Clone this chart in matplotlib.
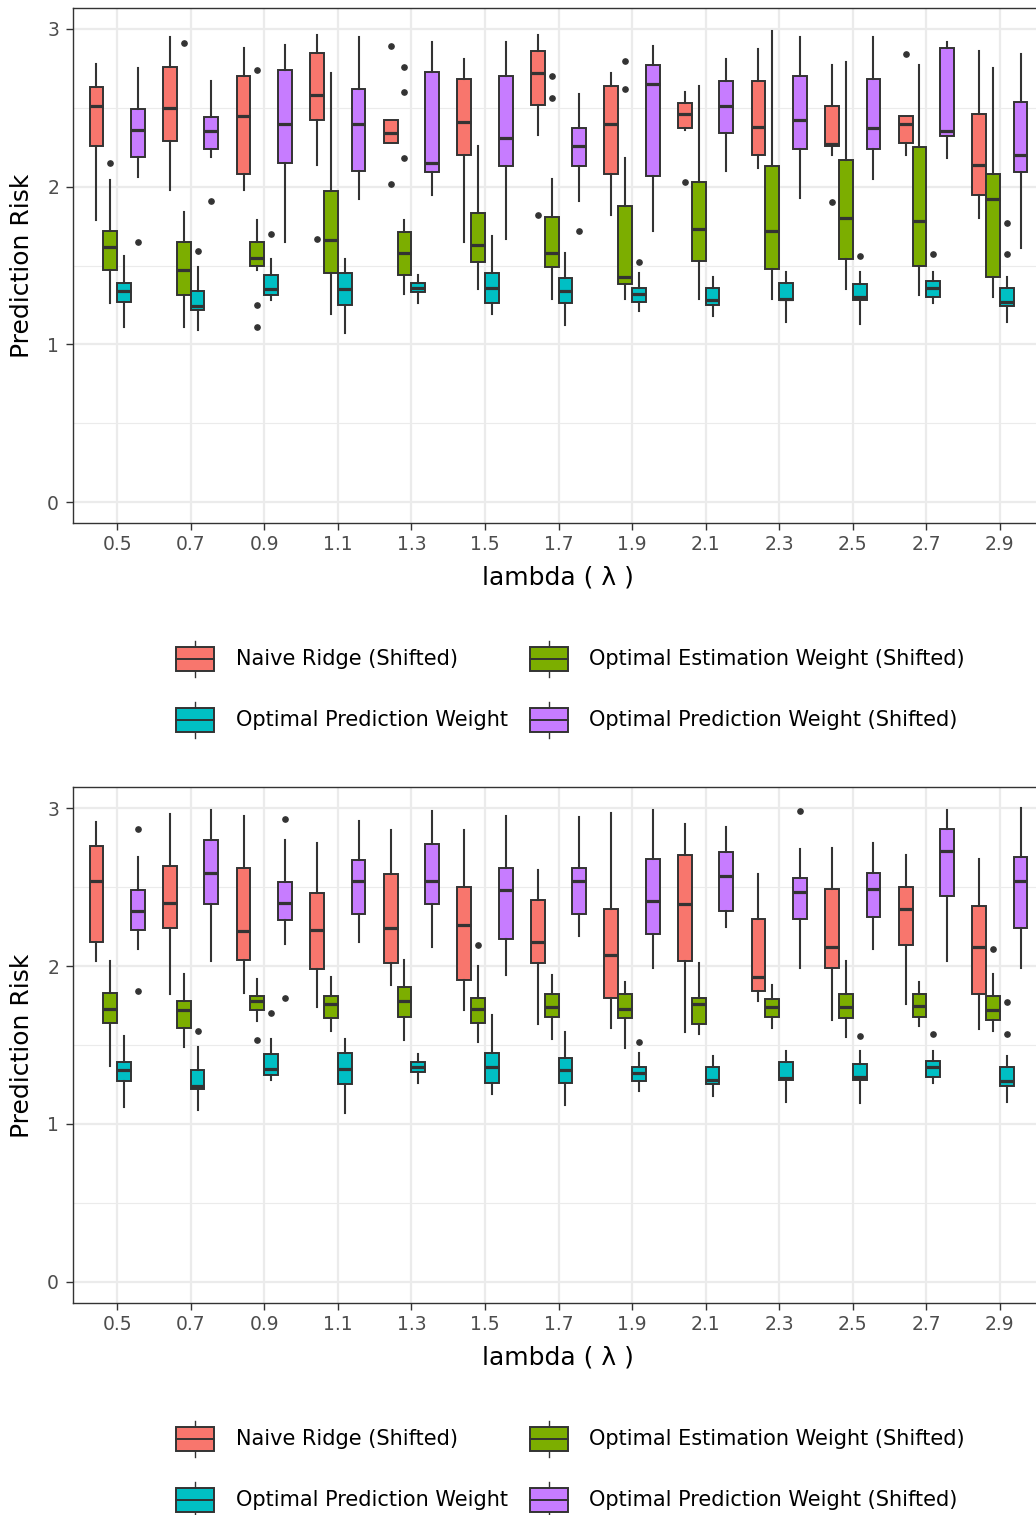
import numpy as np
import matplotlib.pyplot as plt
from matplotlib.patches import Rectangle

# categories
lambdas = ["0.5", "0.7", "0.9", "1.1", "1.3", "1.5", "1.7", "1.9", "2.1", "2.3", "2.5", "2.7", "2.9"]
groups = ["Naive Ridge (Shifted)", "Optimal Estimation Weight (Shifted)",
          "Optimal Prediction Weight", "Optimal Prediction Weight (Shifted)"]
colors = ["#F8766D", "#7CAE00", "#00BFC4", "#C77CFF"]

# ---- top panel (a) ----
a_naive_hi = [2.78, 2.95, 2.88, 2.96, 2.42, 2.81, 2.96, 2.72, 2.60, 2.87, 2.77, 2.45, 2.86]
a_naive_q3 = [2.63, 2.76, 2.70, 2.85, 2.42, 2.68, 2.86, 2.64, 2.53, 2.67, 2.51, 2.45, 2.46]
a_naive_md = [2.51, 2.50, 2.45, 2.58, 2.34, 2.41, 2.72, 2.40, 2.46, 2.38, 2.27, 2.40, 2.14]
a_naive_q1 = [2.26, 2.29, 2.08, 2.42, 2.28, 2.20, 2.52, 2.08, 2.37, 2.20, 2.26, 2.28, 1.95]
a_naive_lo = [1.79, 1.98, 1.98, 2.14, 2.28, 1.65, 2.33, 1.82, 2.36, 2.12, 2.20, 2.20, 1.80]
a_naive_out = [[], [], [], [1.67], [2.89, 2.02], [], [1.82], [], [2.03], [], [1.90], [2.84], []]

a_est_hi = [2.04, 1.84, 1.79, 2.72, 1.79, 2.26, 2.05, 2.18, 2.64, 2.99, 2.79, 2.77, 2.75]
a_est_q3 = [1.72, 1.65, 1.65, 1.97, 1.71, 1.83, 1.81, 1.88, 2.03, 2.13, 2.17, 2.25, 2.08]
a_est_md = [1.62, 1.47, 1.55, 1.66, 1.58, 1.63, 1.58, 1.43, 1.73, 1.72, 1.80, 1.78, 1.92]
a_est_q1 = [1.47, 1.31, 1.50, 1.45, 1.44, 1.52, 1.49, 1.38, 1.53, 1.48, 1.54, 1.50, 1.43]
a_est_lo = [1.26, 1.11, 1.47, 1.19, 1.32, 1.35, 1.29, 1.29, 1.29, 1.29, 1.35, 1.31, 1.30]
a_est_out = [[2.15], [2.91], [2.74, 1.25, 1.11], [], [2.76, 2.60, 2.18], [], [2.70, 2.56],
             [2.80, 2.62], [], [], [], [], []]

a_shift_hi = [2.75, 2.67, 2.90, 2.95, 2.92, 2.92, 2.59, 2.89, 2.81, 2.95, 2.95, 2.92, 2.84]
a_shift_q3 = [2.49, 2.44, 2.74, 2.62, 2.73, 2.70, 2.37, 2.77, 2.67, 2.70, 2.68, 2.88, 2.54]
a_shift_md = [2.36, 2.35, 2.40, 2.40, 2.15, 2.31, 2.26, 2.65, 2.51, 2.42, 2.37, 2.35, 2.20]
a_shift_q1 = [2.19, 2.24, 2.15, 2.10, 2.09, 2.13, 2.13, 2.07, 2.34, 2.24, 2.24, 2.32, 2.09]
a_shift_lo = [2.06, 2.19, 1.65, 1.92, 1.95, 1.67, 1.91, 1.72, 2.10, 1.93, 2.05, 2.18, 1.61]
a_shift_out = [[1.65], [1.91], [], [], [], [], [1.72], [], [], [], [], [], []]

# optimal prediction weight (same in both panels)
pred_hi = [1.56, 1.49, 1.54, 1.54, 1.44, 1.69, 1.58, 1.45, 1.43, 1.46, 1.46, 1.46, 1.43]
pred_q3 = [1.39, 1.34, 1.44, 1.45, 1.39, 1.45, 1.42, 1.36, 1.36, 1.39, 1.38, 1.40, 1.36]
pred_md = [1.34, 1.24, 1.35, 1.35, 1.36, 1.36, 1.34, 1.32, 1.28, 1.29, 1.30, 1.36, 1.27]
pred_q1 = [1.27, 1.22, 1.31, 1.25, 1.33, 1.26, 1.26, 1.27, 1.25, 1.28, 1.28, 1.30, 1.24]
pred_lo = [1.11, 1.09, 1.28, 1.07, 1.26, 1.19, 1.12, 1.21, 1.18, 1.14, 1.13, 1.26, 1.14]
pred_out = [[], [1.59], [1.70], [], [], [], [], [1.52], [], [], [1.56], [1.57], [1.77, 1.57]]

# ---- bottom panel (b) ----
b_naive_hi = [2.91, 2.96, 2.95, 2.78, 2.86, 2.86, 2.61, 2.97, 2.90, 2.58, 2.75, 2.70, 2.68]
b_naive_q3 = [2.76, 2.63, 2.62, 2.46, 2.58, 2.50, 2.42, 2.36, 2.70, 2.30, 2.49, 2.50, 2.38]
b_naive_md = [2.54, 2.40, 2.22, 2.23, 2.24, 2.26, 2.15, 2.07, 2.39, 1.93, 2.12, 2.36, 2.12]
b_naive_q1 = [2.15, 2.24, 2.04, 1.98, 2.02, 1.91, 2.02, 1.80, 2.03, 1.84, 1.99, 2.13, 1.82]
b_naive_lo = [2.03, 1.82, 1.83, 1.74, 1.88, 1.72, 1.63, 1.61, 1.58, 1.78, 1.66, 1.76, 1.60]
b_naive_out = [[] for _ in lambdas]

b_est_hi = [2.03, 1.95, 1.92, 1.93, 2.04, 2.00, 1.94, 1.90, 2.02, 1.88, 2.03, 1.90, 1.95]
b_est_q3 = [1.83, 1.78, 1.81, 1.81, 1.87, 1.80, 1.82, 1.82, 1.80, 1.79, 1.82, 1.82, 1.81]
b_est_md = [1.73, 1.72, 1.78, 1.76, 1.78, 1.73, 1.74, 1.73, 1.76, 1.74, 1.74, 1.75, 1.72]
b_est_q1 = [1.64, 1.61, 1.72, 1.67, 1.68, 1.64, 1.68, 1.67, 1.63, 1.68, 1.67, 1.68, 1.66]
b_est_lo = [1.37, 1.49, 1.65, 1.59, 1.53, 1.52, 1.54, 1.48, 1.57, 1.61, 1.55, 1.62, 1.59]
b_est_out = [[], [], [1.53], [], [], [2.13], [], [], [], [], [], [], [2.11]]

b_shift_hi = [2.69, 2.99, 2.80, 2.92, 2.98, 2.95, 2.94, 2.99, 2.88, 2.74, 2.78, 2.99, 3.00]
b_shift_q3 = [2.48, 2.80, 2.53, 2.67, 2.77, 2.62, 2.62, 2.68, 2.72, 2.56, 2.59, 2.87, 2.69]
b_shift_md = [2.35, 2.59, 2.40, 2.54, 2.54, 2.48, 2.54, 2.41, 2.57, 2.47, 2.49, 2.73, 2.54]
b_shift_q1 = [2.23, 2.39, 2.29, 2.33, 2.39, 2.17, 2.33, 2.20, 2.35, 2.30, 2.31, 2.44, 2.24]
b_shift_lo = [2.11, 2.03, 2.14, 2.15, 2.12, 1.94, 2.19, 1.99, 2.25, 1.99, 2.11, 2.03, 1.99]
b_shift_out = [[2.87, 1.84], [], [2.93, 1.80], [], [], [], [], [], [], [2.98], [], [], []]

W, H = 1036, 1515
DARK = "#333333"
fig = plt.figure(figsize=(W / 100, H / 100), dpi=100)


def make_stats(lo, q1, md, q3, hi, out):
    return [dict(whislo=lo[i], q1=q1[i], med=md[i], q3=q3[i], whishi=hi[i], fliers=out[i])
            for i in range(len(lambdas))]


def draw_panel(ax, series):
    n = len(lambdas)
    offsets = [-0.28125, -0.09375, 0.09375, 0.28125]
    for g, s in enumerate(series):
        ax.bxp(make_stats(*s), positions=np.arange(n) + offsets[g], widths=0.1875,
               patch_artist=True, showcaps=False, manage_ticks=False,
               boxprops=dict(facecolor=colors[g], edgecolor=DARK, linewidth=1.4),
               medianprops=dict(color=DARK, linewidth=2.3, solid_capstyle="butt"),
               whiskerprops=dict(color=DARK, linewidth=1.5),
               flierprops=dict(marker="o", markerfacecolor=DARK, markeredgecolor=DARK,
                               markersize=3.8))
    ax.set_xlim(-0.6, n - 0.4)
    ax.set_ylim(-0.133, 3.133)
    ax.set_xticks(np.arange(n))
    ax.set_xticklabels(lambdas)
    ax.set_yticks([0, 1, 2, 3])
    ax.set_yticks([0.5, 1.5, 2.5], minor=True)
    ax.set_axisbelow(True)
    ax.grid(which="major", color="#EBEBEB", linewidth=1.6)
    ax.grid(which="minor", axis="y", color="#EBEBEB", linewidth=0.8)
    ax.tick_params(which="major", length=5, width=1, color=DARK, labelcolor="#4D4D4D",
                   labelsize=13.5)
    ax.tick_params(axis="x", pad=4)
    ax.tick_params(axis="y", pad=5)
    ax.tick_params(which="minor", length=0)
    for sp in ax.spines.values():
        sp.set_color(DARK)
        sp.set_linewidth(1.0)


# axes positions in pixels: left 73, right beyond the edge (clipped)
ax_top = fig.add_axes([73 / W, 1 - 523 / H, 971 / W, 515 / H])
ax_bot = fig.add_axes([73 / W, 1 - 1303 / H, 971 / W, 516 / H])

draw_panel(ax_top, [
    (a_naive_lo, a_naive_q1, a_naive_md, a_naive_q3, a_naive_hi, a_naive_out),
    (a_est_lo, a_est_q1, a_est_md, a_est_q3, a_est_hi, a_est_out),
    (pred_lo, pred_q1, pred_md, pred_q3, pred_hi, pred_out),
    (a_shift_lo, a_shift_q1, a_shift_md, a_shift_q3, a_shift_hi, a_shift_out),
])
draw_panel(ax_bot, [
    (b_naive_lo, b_naive_q1, b_naive_md, b_naive_q3, b_naive_hi, b_naive_out),
    (b_est_lo, b_est_q1, b_est_md, b_est_q3, b_est_hi, b_est_out),
    (pred_lo, pred_q1, pred_md, pred_q3, pred_hi, pred_out),
    (b_shift_lo, b_shift_q1, b_shift_md, b_shift_q3, b_shift_hi, b_shift_out),
])

# overlay in pixel coordinates for titles and legends
ov = fig.add_axes([0, 0, 1, 1], zorder=5)
ov.set_xlim(0, W)
ov.set_ylim(H, 0)
ov.axis("off")

legend_cols = [(176, 236), (530, 589)]
for top_px in [0, 780]:
    ov.text(22, 266 + top_px, "Prediction Risk", rotation=90, ha="center", va="center",
            fontsize=18, color="black")
    ov.text(558, 577 + top_px, "lambda ( \u03bb )", ha="center", va="center",
            fontsize=18, color="black")
    for g, name in enumerate(groups):
        kx, tx = legend_cols[g % 2]
        yc = 659 + top_px + 61 * (g // 2)
        ov.plot([kx + 19, kx + 19], [yc - 18, yc + 18], color=DARK, linewidth=1.0)
        ov.add_patch(Rectangle((kx, yc - 12), 38, 24, facecolor=colors[g], edgecolor=DARK,
                               linewidth=1.4, zorder=3))
        ov.plot([kx, kx + 38], [yc, yc], color=DARK, linewidth=1.4, zorder=4)
        ov.text(tx, yc, name, ha="left", va="center", fontsize=15, color="black")

fig.savefig("out.png", dpi=100)
